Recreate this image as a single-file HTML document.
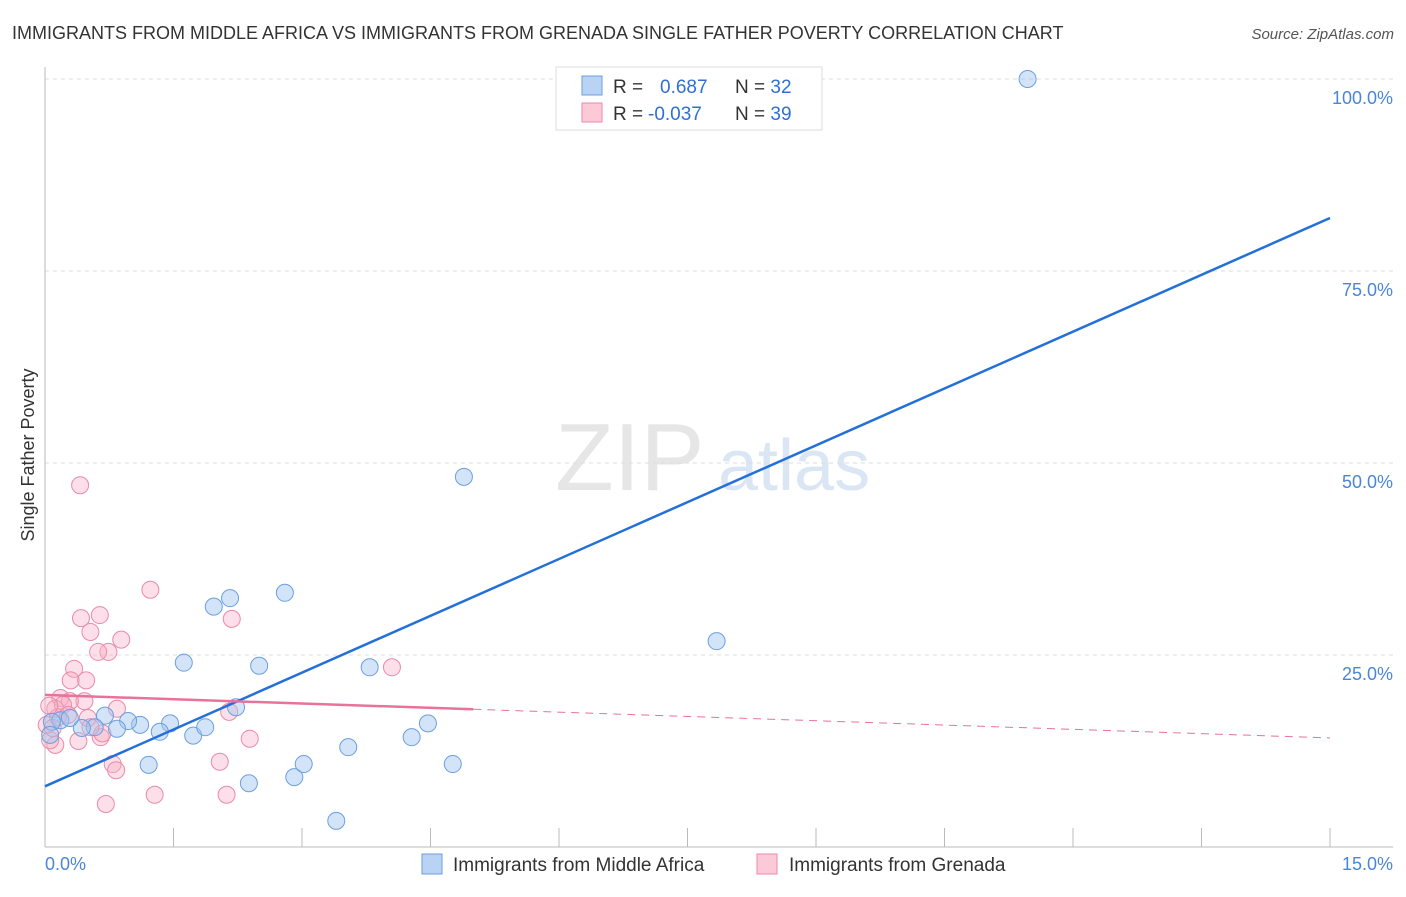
<!DOCTYPE html>
<html><head><meta charset="utf-8"><style>
body{margin:0;background:#fff;font-family:"Liberation Sans",sans-serif;}
svg text{font-family:"Liberation Sans",sans-serif;}
</style></head><body>
<svg id="chart" width="1406" height="892">
<text x="12" y="39" font-size="18" fill="#333">IMMIGRANTS FROM MIDDLE AFRICA VS IMMIGRANTS FROM GRENADA SINGLE FATHER POVERTY CORRELATION CHART</text>
<text x="1394" y="39" font-size="15" fill="#555" text-anchor="end" font-style="italic">Source: ZipAtlas.com</text>
<text x="555" y="490" font-size="96" fill="#e6e6e6" font-family="Liberation Serif">ZIP</text>
<text x="718" y="490" font-size="72" fill="#dbe6f5">atlas</text>
<g id="grid"></g>
<g id="axes"></g>
<g id="points"></g>
<g id="trends"></g>
<text transform="translate(34,455) rotate(-90)" font-size="18" fill="#333" text-anchor="middle">Single Father Poverty</text>
<g>
<rect x="556" y="67" width="266" height="63" fill="#fff" stroke="#ddd"/>
<rect x="582" y="76" width="20" height="19" fill="#b9d3f5" stroke="#6a9fe0"/>
<rect x="582" y="103" width="20" height="19" fill="#fbc9d8" stroke="#eb8aa8"/>
<text x="613" y="93" font-size="19" fill="#333">R = <tspan fill="#2f6fd6" x="660">0.687</tspan><tspan x="735">N = </tspan><tspan fill="#2f6fd6">32</tspan></text>
<text x="613" y="120" font-size="19" fill="#333">R = <tspan fill="#2f6fd6" x="648">-0.037</tspan><tspan x="735">N = </tspan><tspan fill="#2f6fd6">39</tspan></text>
</g>
<g>
<rect x="422" y="854" width="20" height="20" fill="#b9d3f5" stroke="#6a9fe0"/>
<text x="453" y="871" font-size="19" fill="#333">Immigrants from Middle Africa</text>
<rect x="757" y="854" width="20" height="20" fill="#fbc9d8" stroke="#eb8aa8"/>
<text x="789" y="871" font-size="19" fill="#333">Immigrants from Grenada</text>
</g>
</svg>
<script>
const yTicks=[25,50,75,100];
const yTickLabels=["25.0%","50.0%","75.0%","100.0%"];
const xTickCount=10;
const blueX=[11.47,4.89,7.84,2.80,2.16,1.97,1.62,2.50,3.79,2.23,1.46,1.11,0.97,0.70,0.58,0.43,0.18,0.29,0.08,0.06,0.84,1.34,1.73,1.87,1.21,2.38,2.91,3.02,3.54,3.40,4.28,4.47,4.76];
const blueY=[100,48.2,26.8,33.1,32.4,31.3,24.0,23.6,23.4,18.2,16.1,15.9,16.4,17.1,15.6,15.5,16.5,16.8,16.3,14.6,15.4,15.0,14.5,15.6,10.7,8.3,9.1,10.8,13.0,3.4,14.3,16.1,10.8];
const pinkX=[0.41,1.23,0.42,0.64,0.53,0.89,0.34,0.74,0.62,0.30,0.48,0.46,0.18,0.29,0.12,0.21,0.84,0.15,0.05,0.12,0.39,0.65,0.79,0.83,0.71,1.28,2.15,2.18,2.39,2.04,2.12,4.05,0.67,0.06,0.27,0.50,0.53,0.02,0.09];
const pinkY=[47.1,33.5,29.8,30.2,28.0,27.0,23.2,25.4,25.4,21.7,21.7,19.0,19.4,19.0,18.0,18.5,18.0,16.9,18.4,13.3,13.8,14.3,10.8,10.0,5.6,6.8,17.6,29.7,14.1,11.1,6.8,23.4,14.8,13.9,17.2,16.8,15.6,15.9,15.5];
const blueTrend=[7.9,81.9];
const pinkTrend=[19.8,14.2];
const pinkSolidEnd=5.0;

const NS="http://www.w3.org/2000/svg";
const X0=45,X1=1330,Y0=847,Y100=79;
const sx=v=>X0+(X1-X0)*v/15;
const sy=v=>Y0-(Y0-Y100)*v/100;
function mk(t,a,p){const e=document.createElementNS(NS,t);for(const k in a)e.setAttribute(k,a[k]);p.appendChild(e);return e;}
const grid=document.getElementById('grid'),axes=document.getElementById('axes');
yTicks.forEach((v,i)=>{
 const l=mk('line',{x1:X0,x2:1393,y1:sy(v),y2:sy(v),stroke:'#ddd','stroke-dasharray':'4,4'},grid);
 
 
 const t=mk('text',{x:1393,y:sy(v)+25,'text-anchor':'end','font-size':18,fill:'#4a86d8'},axes);
 t.textContent=yTickLabels[i];
 
 
});
const ya=mk('line',{x1:X0,x2:X0,y1:67,y2:Y0,stroke:'#bbb'},axes);


const xa=mk('line',{x1:X0,x2:1393,y1:Y0,y2:Y0,stroke:'#bbb'},axes);


for(let i=1;i<=xTickCount;i++){const x=sx(15*i/xTickCount);
 const tk=mk('line',{x1:x,x2:x,y1:828,y2:Y0,stroke:'#bbb'},axes);
 
 }
const xl=mk('text',{x:45,y:870,'font-size':18,fill:'#4a86d8'},axes);xl.textContent='0.0%';


const xr=mk('text',{x:1393,y:870,'font-size':18,fill:'#4a86d8','text-anchor':'end'},axes);xr.textContent='15.0%';


const pts=document.getElementById('points');
pinkX.forEach((x,i)=>{const c=mk('circle',{cx:sx(x),cy:sy(pinkY[i]),r:8.5,fill:'rgba(248,175,198,0.4)',stroke:'#eb8aa8','stroke-width':1},pts);
 
 });
blueX.forEach((x,i)=>{const c=mk('circle',{cx:sx(x),cy:sy(blueY[i]),r:8.5,fill:'rgba(160,196,240,0.45)',stroke:'#6a9fe0','stroke-width':1},pts);
 
 });
const tr=document.getElementById('trends');
const bt=mk('line',{x1:sx(0),y1:sy(blueTrend[0]),x2:sx(15),y2:sy(blueTrend[1]),stroke:'#2270d8','stroke-width':2.5},tr);


const pAt=x=>pinkTrend[0]+(pinkTrend[1]-pinkTrend[0])*x/15;
const ps=mk('line',{x1:sx(0),y1:sy(pAt(0)),x2:sx(pinkSolidEnd),y2:sy(pAt(pinkSolidEnd)),stroke:'#e8729a','stroke-width':2.5},tr);


const pd=mk('line',{x1:sx(pinkSolidEnd),y1:sy(pAt(pinkSolidEnd)),x2:sx(15),y2:sy(pAt(15)),stroke:'#e8729a','stroke-width':1,'stroke-dasharray':'8,6'},tr);


</script>
</body></html>
